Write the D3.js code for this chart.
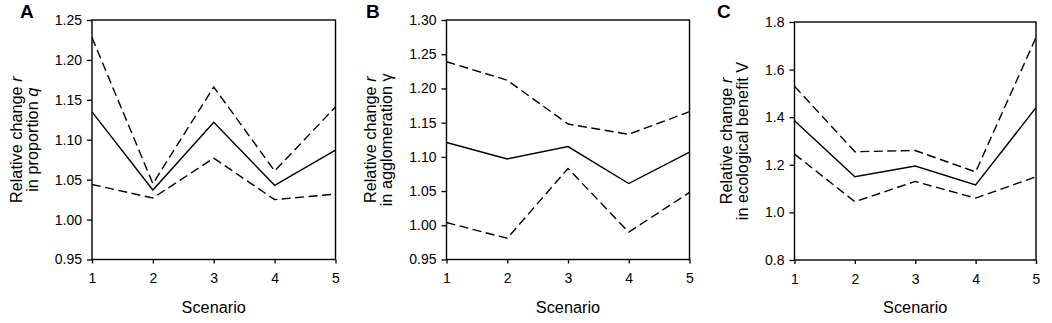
<!DOCTYPE html>
<html>
<head>
<meta charset="utf-8">
<script src="https://cdn.jsdelivr.net/npm/d3@7"></script>
<style>
  html, body { margin: 0; padding: 0; background: #fff; }
  svg { display: block; font-family: Arial, "Liberation Sans", sans-serif; }
</style>
</head>
<body>
<svg id="chart" width="1052" height="323"></svg>
<script>
// ---- data ----
const scenarios = [1, 2, 3, 4, 5];

const aUpper = [1.228, 1.045, 1.166, 1.061, 1.141];
const aMean  = [1.135, 1.037, 1.122, 1.043, 1.087];
const aLower = [1.044, 1.027, 1.077, 1.025, 1.032];
const aTicks = [0.95, 1.00, 1.05, 1.10, 1.15, 1.20, 1.25];

const bUpper = [1.239, 1.212, 1.148, 1.133, 1.166];
const bMean  = [1.121, 1.097, 1.115, 1.061, 1.107];
const bLower = [1.004, 0.981, 1.083, 0.990, 1.048];
const bTicks = [0.95, 1.00, 1.05, 1.10, 1.15, 1.20, 1.25, 1.30];

const cUpper = [1.53, 1.255, 1.26, 1.17, 1.735];
const cMean  = [1.385, 1.15, 1.195, 1.115, 1.44];
const cLower = [1.245, 1.045, 1.13, 1.06, 1.15];
const cTicks = [0.8, 1.0, 1.2, 1.4, 1.6, 1.8];

const panelLetters = ["A", "B", "C"];
const yLabelLine1 = "Relative change ";
const yLabelVar = "r";
const yLabelLine2 = ["in proportion ", "in agglomeration ", "in ecological benefit "];
const yLabelSym = ["q", "γ", "V"];
const xLabel = "Scenario";

// ---- layout ----
const svg = d3.select("#chart");
const panels = [
  { upper: aUpper, mean: aMean, lower: aLower, ticks: aTicks, fmt: d3.format(".2f"),
    left: 92, right: 335.5, top: 20, bottom: 259.5, lab1: 70.5, lab2: 54.5, letterX: 20, symItalic: true },
  { upper: bUpper, mean: bMean, lower: bLower, ticks: bTicks, fmt: d3.format(".2f"),
    left: 446.5, right: 689.5, top: 20, bottom: 259.5, lab1: 70.5, lab2: 54.5, letterX: 366, symItalic: false },
  { upper: cUpper, mean: cMean, lower: cLower, ticks: cTicks, fmt: d3.format(".1f"),
    left: 794.5, right: 1036, top: 22, bottom: 260, lab1: 62.5, lab2: 46.5, letterX: 717, symItalic: false }
];

panels.forEach((p, i) => {
  const x = d3.scaleLinear().domain([1, 5]).range([p.left, p.right]);
  const y = d3.scaleLinear().domain([p.ticks[0], p.ticks[p.ticks.length - 1]]).range([p.bottom, p.top]);
  const g = svg.append("g");

  // frame
  g.append("rect")
    .attr("x", p.left).attr("y", p.top)
    .attr("width", p.right - p.left).attr("height", p.bottom - p.top)
    .attr("fill", "none").attr("stroke", "#000").attr("stroke-width", 1.4);

  // y axis
  const ya = g.append("g").attr("transform", `translate(${p.left},0)`)
    .call(d3.axisLeft(y).tickValues(p.ticks).tickFormat(p.fmt).tickSize(5).tickPadding(5));
  ya.select(".domain").remove();
  ya.selectAll("line").attr("stroke", "#000").attr("stroke-width", 1.3);
  ya.selectAll("text").attr("font-size", 14).attr("fill", "#000")
    .attr("font-family", "Arial, 'Liberation Sans', sans-serif");

  // x axis
  const xa = g.append("g").attr("transform", `translate(0,${p.bottom})`)
    .call(d3.axisBottom(x).tickValues(scenarios).tickFormat(d3.format("d")).tickSize(4).tickPadding(10));
  xa.select(".domain").remove();
  xa.selectAll("line").attr("stroke", "#000").attr("stroke-width", 1.3);
  xa.selectAll("text").attr("font-size", 14).attr("fill", "#000")
    .attr("font-family", "Arial, 'Liberation Sans', sans-serif");

  // lines
  const line = d3.line().x((d, j) => x(scenarios[j])).y(d => y(d));
  [[p.upper, "9,4.5"], [p.lower, "9,4.5"], [p.mean, null]].forEach(([arr, dash]) => {
    g.append("path").datum(arr)
      .attr("d", line)
      .attr("fill", "none").attr("stroke", "#000").attr("stroke-width", 1.4)
      .attr("stroke-dasharray", dash);
  });

  // panel letter
  g.append("text").attr("x", p.letterX).attr("y", 18)
    .attr("font-size", 19).attr("font-weight", "bold").attr("fill", "#000")
    .text(panelLetters[i]);

  // y label
  const cy = (p.top + p.bottom) / 2;
  const t1 = g.append("text")
    .attr("transform", `translate(${p.left - p.lab1},${cy}) rotate(-90)`)
    .attr("text-anchor", "middle").attr("font-size", 16.3).attr("fill", "#000");
  t1.append("tspan").text(yLabelLine1);
  t1.append("tspan").attr("font-style", "italic").text(yLabelVar);
  const t2 = g.append("text")
    .attr("transform", `translate(${p.left - p.lab2},${cy}) rotate(-90)`)
    .attr("text-anchor", "middle").attr("font-size", 16.3).attr("fill", "#000");
  t2.append("tspan").text(yLabelLine2[i]);
  t2.append("tspan").attr("font-style", p.symItalic ? "italic" : "normal").text(yLabelSym[i]);

  // x label
  g.append("text").attr("x", (p.left + p.right) / 2).attr("y", 313)
    .attr("text-anchor", "middle").attr("font-size", 16.3).attr("fill", "#000")
    .text(xLabel);
});
</script>
</body>
</html>
